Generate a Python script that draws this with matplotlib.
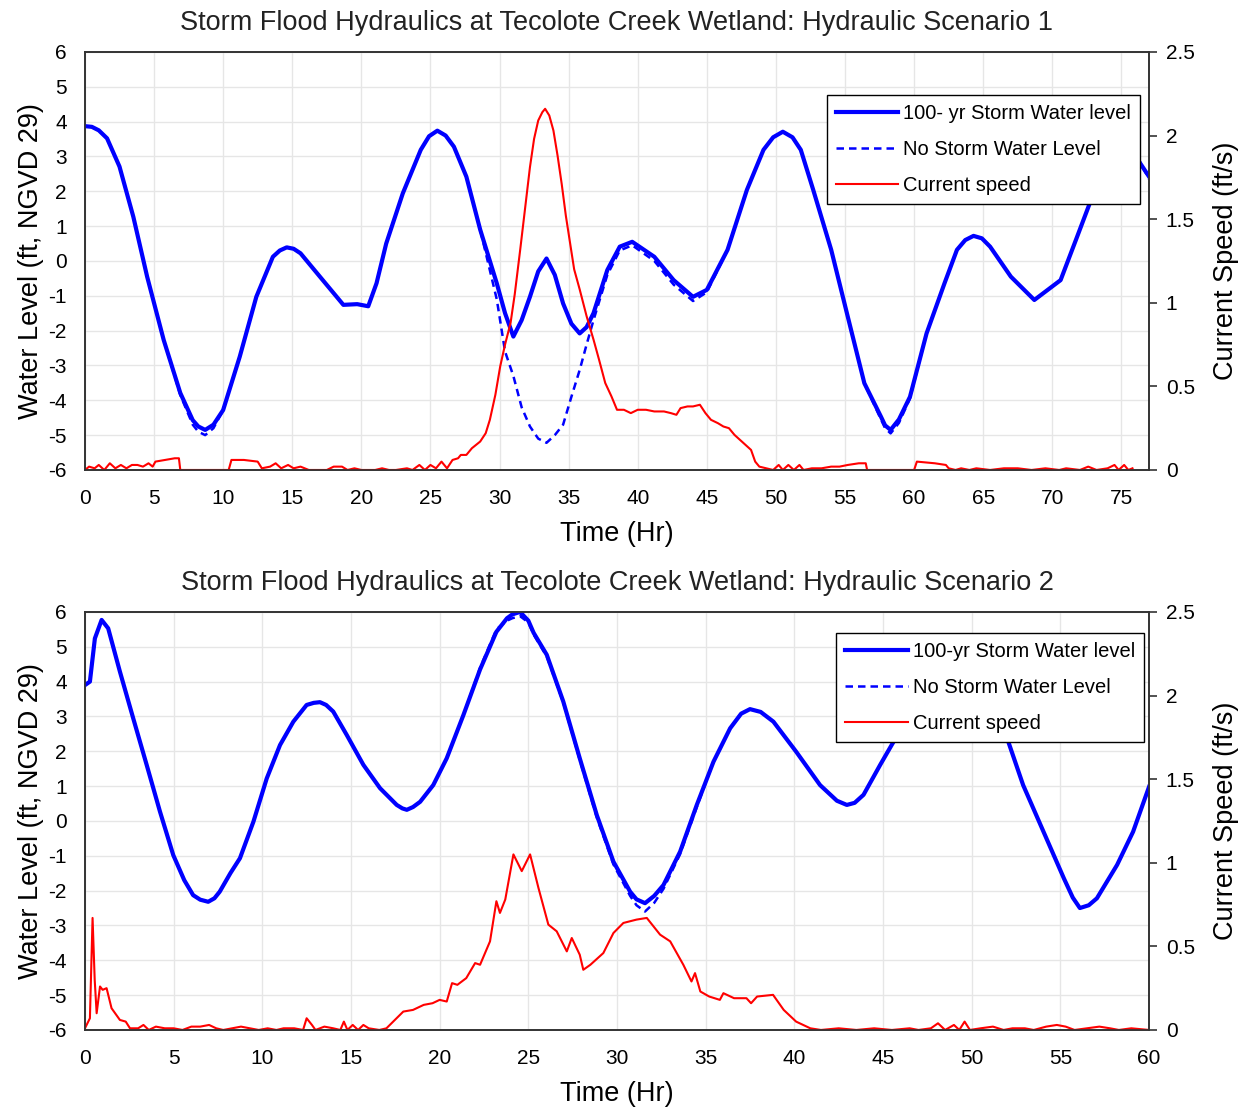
import matplotlib
matplotlib.use("Agg")
from matplotlib import pyplot as plt
from matplotlib.lines import Line2D

plt.rcParams['font.family'] = ['Liberation Sans', 'DejaVu Sans']
plt.rcParams['axes.unicode_minus'] = False

# ---- Scenario 1 data ----
s1_time = [0, 0.5, 1.0, 1.6, 2.5, 3.5, 4.5, 5.7, 6.9, 7.8, 8.2, 8.7, 9.3, 10.0, 11.2, 12.4, 13.6, 14.1,
           14.6, 15.1, 15.6, 17.0, 18.7, 19.7, 20.5, 21.1, 21.8, 23.0, 24.3, 24.9, 25.5, 26.1, 26.7,
           27.6, 28.6, 29.8, 30.4, 31.0, 31.6, 32.2, 32.8, 33.4, 34.0, 34.6, 35.2, 35.8, 36.3, 36.8,
           37.8, 38.7, 39.6, 41.2, 42.6, 44.0, 45.0, 46.5, 47.9, 49.1, 49.8, 50.5, 51.2, 51.8, 52.7,
           54.0, 55.2, 56.4, 57.6, 57.9, 58.3, 58.9, 59.7, 60.9, 62.2, 63.1, 63.7, 64.3, 64.9, 65.5,
           67.0, 68.7, 70.6, 71.8, 72.8, 73.8, 74.8, 76.2, 77.0]
s1_storm = [3.87, 3.85, 3.75, 3.52, 2.71, 1.27, -0.45, -2.27, -3.79, -4.57, -4.75, -4.85, -4.7, -4.28,
            -2.75, -1.03, 0.12, 0.3, 0.39, 0.35, 0.22, -0.45, -1.26, -1.24, -1.3, -0.64, 0.5, 1.94,
            3.19, 3.58, 3.74, 3.6, 3.28, 2.42, 0.9, -0.64, -1.5, -2.17, -1.7, -1.03, -0.3, 0.07, -0.4,
            -1.22, -1.8, -2.08, -1.9, -1.5, -0.26, 0.41, 0.55, 0.12, -0.55, -1.03, -0.83, 0.32, 2.04,
            3.19, 3.55, 3.71, 3.55, 3.19, 2.04, 0.32, -1.6, -3.51, -4.47, -4.72, -4.85, -4.55, -3.9,
            -2.08, -0.64, 0.32, 0.6, 0.72, 0.65, 0.41, -0.45, -1.12, -0.55, 0.7, 1.75, 2.8, 3.3, 2.9,
            2.42]
s1_nostorm = [3.87, 3.85, 3.75, 3.52, 2.71, 1.27, -0.45, -2.27, -3.85, -4.7, -4.9, -5.0, -4.8, -4.28,
              -2.75, -1.03, 0.12, 0.3, 0.39, 0.35, 0.22, -0.45, -1.26, -1.24, -1.3, -0.64, 0.5, 1.94,
              3.19, 3.58, 3.74, 3.6, 3.28, 2.42, 0.9, -1.1, -2.6, -3.3, -4.2, -4.75, -5.1, -5.22, -5.0,
              -4.7, -3.9, -3.13, -2.4, -1.7, -0.4, 0.3, 0.45, 0.0, -0.68, -1.15, -0.9, 0.32, 2.04,
              3.19, 3.55, 3.71, 3.55, 3.19, 2.04, 0.32, -1.6, -3.51, -4.55, -4.8, -4.95, -4.65, -3.95,
              -2.08, -0.64, 0.32, 0.6, 0.72, 0.65, 0.41, -0.45, -1.12, -0.55, 0.7, 1.75, 2.8, 3.3, 2.95,
              2.35]
s1_speed_time = [0, 0.3, 0.7, 1.0, 1.4, 1.8, 2.2, 2.6, 3.0, 3.4, 3.8, 4.2, 4.6, 4.9, 5.1, 5.8, 6.5, 6.8,
                 6.9, 10.4, 10.6, 11.5, 12.5, 12.8, 13.4, 13.8, 14.2, 14.7, 15.1, 15.6, 16.2, 17.5, 18.0,
                 18.6, 19.0, 19.5, 20.0, 21.0, 21.5, 22.0, 22.5, 23.3, 23.7, 24.2, 24.6, 25.0, 25.4, 25.8,
                 26.2, 26.6, 27.0, 27.2, 27.6, 28.0, 28.6, 29.0, 29.3, 29.7, 30.05, 30.4, 30.8, 31.1,
                 31.5, 31.9, 32.2, 32.5, 32.8, 33.1, 33.3, 33.6, 33.9, 34.2, 34.5, 34.8, 35.1, 35.4, 35.8,
                 36.3, 36.8, 37.2, 37.65, 38.1, 38.5, 39.0, 39.5, 40.0, 40.6, 41.2, 41.9, 42.4, 42.8,
                 43.1, 43.6, 44.0, 44.5, 44.9, 45.3, 45.8, 46.2, 46.6, 47.0, 47.4, 47.8, 48.2, 48.5, 48.8,
                 49.3, 49.8, 50.2, 50.5, 50.9, 51.3, 51.7, 52.0, 52.6, 53.3, 54.0, 54.6, 55.2, 56.0, 56.5,
                 56.6, 60.0, 60.2, 61.5, 62.3, 62.5, 63.0, 63.4, 64.0, 64.5, 65.5, 66.5, 67.5, 68.5, 69.5,
                 70.5, 71.0, 72.0, 72.6, 73.2, 74.0, 74.5, 74.8, 75.2, 75.5, 75.8]
s1_speed = [0.0, 0.02, 0.01, 0.03, 0.0, 0.04, 0.01, 0.03, 0.01, 0.03, 0.03, 0.02, 0.04, 0.02, 0.05, 0.06,
            0.07, 0.07, 0.0, 0.0, 0.06, 0.06, 0.05, 0.01, 0.02, 0.04, 0.01, 0.03, 0.01, 0.02, 0.0, 0.0,
            0.02, 0.02, 0.0, 0.01, 0.0, 0.0, 0.01, 0.0, 0.0, 0.01, 0.0, 0.03, 0.0, 0.03, 0.01, 0.05, 0.01,
            0.06, 0.07, 0.09, 0.09, 0.13, 0.17, 0.22, 0.30, 0.45, 0.62, 0.75, 0.88, 1.05, 1.32, 1.6, 1.81,
            1.98, 2.09, 2.14, 2.16, 2.12, 2.03, 1.88, 1.71, 1.52, 1.36, 1.2, 1.08, 0.92, 0.78, 0.66, 0.52,
            0.44, 0.36, 0.36, 0.34, 0.36, 0.36, 0.35, 0.35, 0.34, 0.33, 0.37, 0.38, 0.38, 0.39, 0.34, 0.30,
            0.28, 0.26, 0.25, 0.21, 0.18, 0.15, 0.12, 0.05, 0.02, 0.01, 0.0, 0.03, 0.0, 0.03, 0.0, 0.03,
            0.0, 0.01, 0.01, 0.02, 0.02, 0.03, 0.04, 0.04, 0.0, 0.0, 0.05, 0.04, 0.03, 0.01, 0.0, 0.01,
            0.0, 0.01, 0.0, 0.01, 0.01, 0.0, 0.01, 0.0, 0.01, 0.0, 0.02, 0.0, 0.01, 0.03, 0.0, 0.03, 0.0,
            0.01]

# ---- Scenario 2 data ----
s2_time = [0, 0.28, 0.56, 0.94, 1.31, 1.97, 2.72, 3.48, 4.23, 4.98, 5.6, 6.1, 6.5, 6.95, 7.3, 7.6, 8.2,
           8.74, 9.5, 10.25, 11.0, 11.75, 12.5, 12.9, 13.25, 13.6, 14.0, 14.76, 15.7, 16.64, 17.58,
           17.9, 18.15, 18.5, 18.9, 19.64, 20.4, 21.34, 22.28, 23.2, 23.8, 24.1, 24.53, 25.0, 25.3,
           26.04, 26.97, 27.9, 28.86, 29.8, 30.74, 31.1, 31.58, 32.1, 32.62, 33.56, 34.5, 35.44, 36.38,
           37.0, 37.5, 38.1, 38.82, 40.1, 41.45, 42.4, 42.96, 43.4, 43.9, 44.84, 45.6, 46.5, 47.5, 48.6,
           49.8, 51.0, 52.0, 52.9, 54.05, 55.2, 55.7, 56.1, 56.6, 57.06, 58.2, 59.1, 60.0]
s2_storm = [3.9, 4.0, 5.24, 5.77, 5.53, 4.29, 2.95, 1.61, 0.27, -0.98, -1.7, -2.13, -2.26, -2.32, -2.22,
            -2.03, -1.5, -1.07, -0.02, 1.22, 2.18, 2.85, 3.33, 3.39, 3.41, 3.33, 3.14, 2.47, 1.61, 0.94,
            0.46, 0.36, 0.32, 0.4, 0.55, 1.03, 1.8, 3.04, 4.35, 5.43, 5.82, 5.93, 6.0, 5.75, 5.4, 4.77,
            3.43, 1.8, 0.17, -1.17, -2.03, -2.25, -2.36, -2.15, -1.84, -0.88, 0.46, 1.7, 2.66, 3.08,
            3.21, 3.13, 2.85, 1.99, 1.03, 0.58, 0.46, 0.52, 0.75, 1.61, 2.28, 3.4, 4.3, 4.6, 4.4, 3.4,
            2.37, 1.03, -0.31, -1.65, -2.2, -2.5, -2.42, -2.22, -1.26, -0.31, 0.98]
s2_nostorm = [3.9, 4.0, 5.24, 5.77, 5.53, 4.29, 2.95, 1.61, 0.27, -0.98, -1.7, -2.13, -2.26, -2.32, -2.22,
              -2.03, -1.5, -1.07, -0.02, 1.22, 2.18, 2.85, 3.33, 3.39, 3.41, 3.33, 3.14, 2.47, 1.61, 0.94,
              0.46, 0.36, 0.32, 0.4, 0.55, 1.03, 1.8, 3.04, 4.4, 5.5, 5.75, 5.82, 5.88, 5.7, 5.35, 4.72,
              3.4, 1.75, 0.1, -1.25, -2.15, -2.42, -2.6, -2.35, -1.95, -0.95, 0.4, 1.7, 2.66, 3.08,
              3.21, 3.13, 2.85, 1.99, 1.03, 0.58, 0.46, 0.52, 0.75, 1.61, 2.28, 3.4, 4.3, 4.6, 4.4, 3.4,
              2.37, 1.03, -0.31, -1.65, -2.2, -2.5, -2.42, -2.22, -1.26, -0.31, 0.98]
s2_speed_time = [0, 0.28, 0.43, 0.55, 0.66, 0.85, 1.0, 1.22, 1.5, 1.97, 2.3, 2.54, 3.0, 3.3, 3.6, 4.0,
                 4.5, 5.0, 5.5, 6.0, 6.5, 7.0, 7.4, 7.8, 8.3, 8.8, 9.3, 9.8, 10.3, 10.8, 11.2, 11.8,
                 12.3, 12.5, 12.8, 13.0, 13.5, 14.0, 14.4, 14.6, 14.8, 15.1, 15.4, 15.7, 16.0, 16.6,
                 17.0, 17.95, 18.5, 19.1, 19.6, 20.0, 20.4, 20.7, 21.0, 21.5, 22.0, 22.28, 22.84, 23.2,
                 23.4, 23.7, 24.16, 24.63, 25.1, 25.57, 26.13, 26.6, 27.17, 27.45, 27.9, 28.1, 28.5,
                 29.23, 29.8, 30.36, 31.1, 31.68, 32.43, 33.0, 33.74, 34.2, 34.4, 34.7, 35.2, 35.8,
                 36.0, 36.6, 37.3, 37.56, 37.9, 38.8, 39.4, 40.1, 40.9, 41.5, 42.5, 43.5, 44.5, 45.5,
                 46.5, 47.0, 47.7, 48.1, 48.5, 49.0, 49.3, 49.6, 49.9, 50.5, 51.2, 51.8, 52.3, 53.0,
                 53.5, 54.2, 54.8, 55.3, 55.8, 56.5, 57.2, 57.8, 58.3, 59.0, 60.0]
s2_speed = [0.01, 0.07, 0.67, 0.3, 0.10, 0.26, 0.24, 0.25, 0.13, 0.06, 0.05, 0.01, 0.01, 0.03, 0.0,
            0.02, 0.01, 0.01, 0.0, 0.02, 0.02, 0.03, 0.01, 0.0, 0.01, 0.02, 0.01, 0.0, 0.01, 0.0, 0.01,
            0.01, 0.0, 0.07, 0.03, 0.0, 0.02, 0.01, 0.0, 0.05, 0.0, 0.03, 0.0, 0.03, 0.01, 0.0, 0.01,
            0.11, 0.12, 0.15, 0.16, 0.18, 0.17, 0.28, 0.27, 0.31, 0.40, 0.39, 0.53, 0.77, 0.70, 0.78,
            1.05, 0.95, 1.05, 0.85, 0.63, 0.59, 0.47, 0.55, 0.45, 0.36, 0.39, 0.46, 0.58, 0.64, 0.66,
            0.67, 0.57, 0.53, 0.39, 0.29, 0.34, 0.23, 0.20, 0.18, 0.22, 0.19, 0.19, 0.16, 0.20, 0.21,
            0.12, 0.05, 0.01, 0.0, 0.01, 0.0, 0.01, 0.0, 0.01, 0.0, 0.01, 0.04, 0.0, 0.03, 0.0, 0.05,
            0.0, 0.01, 0.02, 0.0, 0.01, 0.01, 0.0, 0.02, 0.03, 0.02, 0.0, 0.01, 0.02, 0.01, 0.0, 0.01,
            0.0]

panels = [
    dict(title="Storm Flood Hydraulics at Tecolote Creek Wetland: Hydraulic Scenario 1",
         t=s1_time, storm=s1_storm, nostorm=s1_nostorm, st=s1_speed_time, sp=s1_speed,
         xmax=77, storm_label="100- yr Storm Water level", leg=(0.9915, 0.897),
         rect=[0.0679, 0.5766, 0.8506, 0.3766]),
    dict(title="Storm Flood Hydraulics at Tecolote Creek Wetland: Hydraulic Scenario 2",
         t=s2_time, storm=s2_storm, nostorm=s2_nostorm, st=s2_speed_time, sp=s2_speed,
         xmax=60, storm_label="100-yr Storm Water level", leg=(0.9953, 0.95),
         rect=[0.0679, 0.0721, 0.8506, 0.3766]),
]

fig = plt.figure(figsize=(12.51, 11.1), dpi=100)
spine_col = "#333333"

for p in panels:
    ax = fig.add_axes(p["rect"])
    ax2 = ax.twinx()

    ax.plot(p["t"], p["nostorm"], color="blue", lw=1.8, ls=(0, (3, 2)), zorder=2)
    ax.plot(p["t"], p["storm"], color="blue", lw=3.0, zorder=3)
    ax2.plot(p["st"], p["sp"], color="red", lw=1.5)

    ax.set_xlim(0, p["xmax"])
    ax.set_ylim(-6, 6)
    ax.set_yticks(range(-6, 7))
    ax.set_xticks(range(0, p["xmax"] + 1, 5))
    ax2.set_ylim(0, 2.5)
    ax2.set_yticks([0, 0.5, 1, 1.5, 2, 2.5])
    ax2.set_yticklabels(["0", "0.5", "1", "1.5", "2", "2.5"])

    ax.grid(True, color="#e6e6e6", lw=1.0)
    ax.set_axisbelow(True)
    ax.tick_params(axis="x", length=0, labelsize=15, pad=14)
    ax.tick_params(axis="y", length=0, labelsize=15, pad=13)
    ax2.tick_params(axis="y", length=6, width=1.2, labelsize=15, pad=6, color=spine_col)

    for a in (ax, ax2):
        for s in a.spines.values():
            s.set_color(spine_col)
            s.set_linewidth(1.2)

    ax.set_title(p["title"], fontsize=19.5, pad=16, color="#222222")
    ax.set_xlabel("Time (Hr)", fontsize=19.5, labelpad=9)
    ax.set_ylabel("Water Level (ft, NGVD 29)", fontsize=19.5, labelpad=3)
    ax2.set_ylabel("Current Speed (ft/s)", fontsize=19.5, labelpad=13)

    handles = [Line2D([], [], color="blue", lw=3.0),
               Line2D([], [], color="blue", lw=1.8, ls=(0, (3, 2))),
               Line2D([], [], color="red", lw=1.5)]
    labels = [p["storm_label"], "No Storm Water Level", "Current speed"]
    leg = ax2.legend(handles, labels, loc="upper right", bbox_to_anchor=p["leg"],
                     bbox_transform=ax2.transAxes, borderaxespad=0, fontsize=14.5,
                     frameon=True, fancybox=False, framealpha=1, edgecolor="black",
                     handlelength=3.1, handletextpad=0.25, labelspacing=0.85,
                     borderpad=0.45)
    leg.get_frame().set_linewidth(1.0)
    leg.set_zorder(10)

fig.savefig("out.png", dpi=100)
plt.close(fig)
